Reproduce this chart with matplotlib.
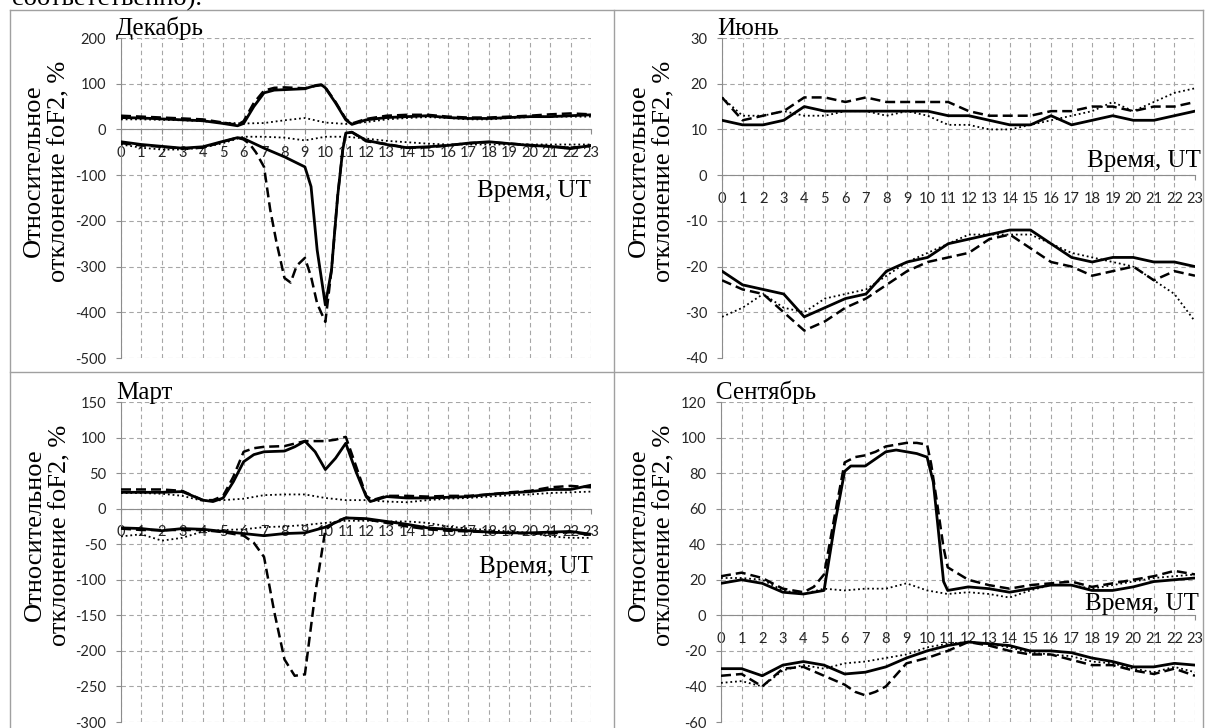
"""Относительное отклонение foF2 — четыре сезона (декабрь, июнь, март, сентябрь)."""

import matplotlib
matplotlib.use("Agg")
import matplotlib.pyplot as plt          # noqa: E402
from matplotlib.lines import Line2D      # noqa: E402

plt.rcParams["axes.unicode_minus"] = False

W, H = 1206, 728
HOURS = list(range(24))

# ---- Декабрь -------------------------------------------------------------
DEC_UP_T = [0, 1, 2, 3, 4, 5, 5.7, 6, 6.5, 7, 7.5, 8, 9, 9.5, 9.8, 10, 10.5,
            11, 11.3, 12, 13, 14, 15, 16, 17, 18, 19, 20, 21, 22, 23]
DEC_UP_SOLID = [26, 25, 23, 21, 19, 13, 8, 13, 50, 80, 86, 87, 89, 96, 98, 91,
                58, 21, 11, 21, 26, 28, 30, 26, 24, 24, 26, 28, 28, 30, 32]
DEC_UP_DASHED = [30, 28, 26, 24, 22, 15, 10, 18, 58, 85, 91, 92, 90, 95, 97,
                 92, 60, 23, 13, 23, 30, 32, 32, 28, 26, 26, 28, 30, 33, 35, 33]
DEC_UP_DOTTED = [22, 22, 21, 20, 18, 15, 13, 14, 20, 25, 15, 12, 16, 22, 25,
                 27, 25, 22, 22, 25, 27, 28, 28, 28]
DEC_LO_SOLID_T = [0, 1, 2, 3, 4, 5, 5.7, 6, 7, 8, 9, 9.3, 9.6, 10, 10.3, 10.6,
                  10.85, 11, 11.3, 12, 13, 14, 15, 16, 17, 18, 19, 20, 21, 22,
                  23]
DEC_LO_SOLID = [-27, -33, -37, -41, -38, -26, -18, -20, -41, -60, -82, -125,
                -264, -384, -308, -147, -45, -8, -6, -24, -33, -40, -38, -35,
                -30, -27, -31, -35, -37, -42, -35]
DEC_LO_DASHED_T = [0, 1, 2, 3, 4, 5, 5.7, 6, 6.3, 6.6, 7, 7.3, 7.6, 8, 8.3,
                   8.6, 9, 9.3, 9.6, 10, 10.3, 10.6, 10.85, 11, 11.3, 12, 13,
                   14, 15, 16, 17, 18, 19, 20, 21, 22, 23]
DEC_LO_DASHED = [-30, -35, -38, -42, -40, -27, -18, -22, -32, -50, -82, -175,
                 -245, -325, -335, -298, -281, -322, -381, -421, -308, -147,
                 -45, -8, -6, -26, -32, -40, -39, -35, -30, -28, -31, -34, -37,
                 -40, -36]
DEC_LO_DOTTED = [-33, -40, -44, -44, -40, -30, -16, -16, -18, -24, -16, -16,
                 -20, -25, -28, -31, -33, -33, -33, -33, -33, -33, -33, -33]

# ---- Июнь ----------------------------------------------------------------
JUN_UP_SOLID = [12, 11, 11, 12, 15, 14, 14, 14, 14, 14, 14, 13, 13, 12, 11, 11,
                13, 11, 12, 13, 12, 12, 13, 14]
JUN_UP_DASHED = [17, 12, 13, 14, 17, 17, 16, 17, 16, 16, 16, 16, 14, 13, 13,
                 13, 14, 14, 15, 15, 14, 15, 15, 16]
JUN_UP_DOTTED = [17, 13, 13, 14, 13, 13, 14, 14, 13, 14, 13, 11, 11, 10, 10,
                 11, 12, 13, 14, 16, 14, 16, 18, 19]
JUN_LO_SOLID = [-21, -24, -25, -26, -31, -29, -27, -26, -21, -19, -18, -15,
                -14, -13, -12, -12, -15, -18, -19, -18, -18, -19, -19, -20]
JUN_LO_DASHED = [-23, -25, -26, -30, -34, -32, -29, -27, -24, -21, -19, -18,
                 -17, -14, -13, -16, -19, -20, -22, -21, -20, -23, -21, -22]
JUN_LO_DOTTED = [-31, -29, -26, -29, -30, -27, -26, -25, -22, -19, -17, -15,
                 -13, -13, -13, -13, -15, -17, -18, -19, -20, -23, -26, -32]

# ---- Март ----------------------------------------------------------------
MAR_UP_SOLID_T = [0, 1, 2, 3, 4, 4.5, 5, 5.5, 6, 6.5, 7, 8, 8.5, 9, 9.5, 10,
                  10.5, 11, 11.5, 12, 12.2, 13, 14, 15, 16, 17, 18, 19, 20, 21,
                  22, 23]
MAR_UP_SOLID = [23, 23, 23, 24, 12, 10, 15, 38, 66, 76, 80, 81, 87, 95, 80, 55,
                71, 92, 52, 17, 10, 17, 15, 15, 16, 17, 20, 22, 24, 27, 27, 33]
MAR_UP_DASHED_T = [0, 1, 2, 3, 4, 4.5, 5, 5.5, 6, 6.5, 7, 8, 9, 10, 10.5, 11,
                   11.5, 12, 12.3, 13, 14, 15, 16, 17, 18, 19, 20, 21, 22, 23]
MAR_UP_DASHED = [27, 27, 27, 25, 12, 12, 18, 45, 80, 85, 87, 88, 95, 95, 97,
                 101, 60, 18, 12, 18, 18, 17, 18, 18, 20, 23, 25, 30, 32, 30]
MAR_UP_DOTTED = [22, 22, 21, 18, 11, 12, 14, 19, 20, 20, 15, 12, 12, 10, 9, 12,
                 14, 15, 17, 19, 20, 22, 23, 24]
MAR_LO_SOLID = [-27, -28, -31, -28, -29, -32, -35, -38, -35, -34, -26, -13,
                -14, -18, -22, -27, -29, -31, -33, -34, -34, -33, -32, -36]
MAR_LO_DASHED_T = [0, 1, 2, 3, 4, 5, 6, 6.5, 7, 7.5, 8, 8.5, 9, 9.5, 10, 10.5,
                   11, 12, 13, 14, 15, 16, 17, 18, 19, 20, 21, 22, 23]
MAR_LO_DASHED = [-28, -30, -30, -30, -30, -33, -38, -48, -68, -145, -212, -235,
                 -233, -120, -30, -18, -13, -15, -20, -25, -29, -31, -32, -33,
                 -34, -35, -35, -33, -37]
MAR_LO_DOTTED = [-39, -36, -45, -41, -32, -30, -29, -26, -25, -23, -20, -17,
                 -17, -18, -18, -20, -25, -28, -30, -32, -34, -39, -41, -41]

# ---- Сентябрь ------------------------------------------------------------
SEP_UP_SOLID_T = [0, 1, 2, 3, 4, 5, 5.5, 6, 6.3, 7, 7.5, 8, 8.5, 9, 9.5, 10,
                  10.3, 10.5, 10.8, 11, 12, 13, 14, 15, 16, 17, 18, 19, 20, 21,
                  22, 23]
SEP_UP_SOLID = [18, 20, 18, 13, 12, 14, 50, 81, 84, 84, 88, 92, 93, 92, 91, 89,
                75, 53, 19, 14, 16, 15, 13, 15, 17, 17, 14, 14, 16, 19, 20, 21]
SEP_UP_DASHED_T = [0, 1, 2, 3, 4, 4.5, 5, 5.5, 6, 6.5, 7, 7.5, 8, 8.5, 9, 9.5,
                   10, 10.2, 10.5, 10.8, 11, 12, 13, 14, 15, 16, 17, 18, 19,
                   20, 21, 22, 23]
SEP_UP_DASHED = [22, 24, 21, 15, 13, 16, 23, 55, 86, 89, 90, 92, 95, 96, 97,
                 97, 96, 85, 62, 38, 27, 20, 17, 15, 17, 18, 19, 16, 18, 20,
                 22, 25, 23]
SEP_UP_DOTTED = [21, 21, 20, 14, 12, 15, 14, 15, 15, 18, 14, 12, 13, 12, 10,
                 14, 17, 17, 15, 17, 19, 21, 22, 23]
SEP_LO_SOLID = [-30, -30, -34, -28, -26, -28, -33, -32, -29, -24, -20, -17,
                -15, -16, -17, -20, -20, -21, -24, -26, -29, -29, -27, -28]
SEP_LO_DASHED_T = [0, 1, 2, 3, 4, 5, 6, 6.5, 7, 7.5, 8, 9, 10, 11, 12, 13, 14,
                   15, 16, 17, 18, 19, 20, 21, 22, 23]
SEP_LO_DASHED = [-34, -33, -40, -30, -29, -34, -39, -43, -45, -43, -40, -27,
                 -24, -20, -15, -17, -20, -22, -22, -25, -28, -28, -31, -33,
                 -30, -34]
SEP_LO_DOTTED = [-38, -37, -40, -31, -28, -30, -27, -26, -24, -22, -18, -16,
                 -15, -16, -18, -21, -22, -23, -26, -27, -30, -32, -29, -32]

SERIF = "Liberation Serif"
SANS = "Lato"
GRID_C = "#a6a6a6"
AXIS_C = "#8c8c8c"
YLABEL = "Относительное\nотклонение foF2, %"

SOLID = dict(color="black", lw=2.0, ls="-", solid_joinstyle="round")
DASHED = dict(color="black", lw=1.8, ls=(0, (4, 2)))
DOTTED = dict(color="black", lw=1.3, ls=(0, (1, 1.6)))


def fx(x):
    return x / W


def fy(y):
    return 1 - y / H


def px_axes(fig, left, top, right, bottom):
    return fig.add_axes([fx(left), fy(bottom), (right - left) / W,
                         (bottom - top) / H])


def draw_panel(ax, curves, ymin, ymax, step):
    for t, v, style in curves:
        ax.plot(t, v, **style, zorder=3)
    ax.set_xlim(0, 23)
    ax.set_ylim(ymin, ymax)
    ax.set_xticks(HOURS)
    ax.set_xticklabels([str(h) for h in HOURS])
    ax.set_yticks(range(ymin, ymax + 1, step))
    ax.set_axisbelow(True)
    ax.grid(True, color=GRID_C, lw=0.8, ls=(0, (4, 3)))
    for side in ("top", "right"):
        ax.spines[side].set_visible(False)
    ax.spines["left"].set_color(AXIS_C)
    ax.spines["bottom"].set_color(AXIS_C)
    ax.spines["bottom"].set_position(("data", 0))
    ax.tick_params(axis="both", direction="out", length=3.6, color=AXIS_C,
                   labelsize=10.5, labelcolor="#262626")
    ax.tick_params(axis="y", pad=7)
    ax.tick_params(axis="x", pad=8.5)
    for lab in ax.get_xticklabels() + ax.get_yticklabels():
        lab.set_fontfamily(SANS)


fig = plt.figure(figsize=(W / 100, H / 100), dpi=100)
fig.patch.set_facecolor("white")

# рамка таблицы
for (x0, y0, x1, y1) in [(10, 10, 1203, 10), (10, 10, 10, 728),
                         (614, 10, 614, 728), (10, 372, 1203, 372),
                         (1203, 10, 1203, 728)]:
    fig.add_artist(Line2D([fx(x0), fx(x1)], [fy(y0), fy(y1)],
                          transform=fig.transFigure, color="#a0a0a0", lw=1.0))

fig.text(fx(12), fy(6), "соответственно).", fontsize=19, family=SERIF,
         va="baseline")

panels = [
    dict(box=(121, 38, 591, 358), ylim=(-500, 200, 100), title="Декабрь",
         curves=[(HOURS, DEC_UP_DOTTED, DOTTED), (DEC_UP_T, DEC_UP_DASHED, DASHED),
                 (DEC_UP_T, DEC_UP_SOLID, SOLID), (HOURS, DEC_LO_DOTTED, DOTTED),
                 (DEC_LO_DASHED_T, DEC_LO_DASHED, DASHED),
                 (DEC_LO_SOLID_T, DEC_LO_SOLID, SOLID)],
         time_xy=(591, 197), label_x=47),
    dict(box=(722, 38, 1195, 358), ylim=(-40, 30, 10), title="Июнь",
         curves=[(HOURS, JUN_UP_DOTTED, DOTTED), (HOURS, JUN_UP_DASHED, DASHED),
                 (HOURS, JUN_UP_SOLID, SOLID), (HOURS, JUN_LO_DOTTED, DOTTED),
                 (HOURS, JUN_LO_DASHED, DASHED), (HOURS, JUN_LO_SOLID, SOLID)],
         time_xy=(1201, 167), label_x=652),
    dict(box=(121, 402, 591, 722), ylim=(-300, 150, 50), title="Март",
         curves=[(HOURS, MAR_UP_DOTTED, DOTTED),
                 (MAR_UP_DASHED_T, MAR_UP_DASHED, DASHED),
                 (MAR_UP_SOLID_T, MAR_UP_SOLID, SOLID),
                 (HOURS, MAR_LO_DOTTED, DOTTED),
                 (MAR_LO_DASHED_T, MAR_LO_DASHED, DASHED),
                 (HOURS, MAR_LO_SOLID, SOLID)],
         time_xy=(593, 573), label_x=48),
    dict(box=(721, 402, 1195, 722), ylim=(-60, 120, 20), title="Сентябрь",
         curves=[(HOURS, SEP_UP_DOTTED, DOTTED),
                 (SEP_UP_DASHED_T, SEP_UP_DASHED, DASHED),
                 (SEP_UP_SOLID_T, SEP_UP_SOLID, SOLID),
                 (HOURS, SEP_LO_DOTTED, DOTTED),
                 (SEP_LO_DASHED_T, SEP_LO_DASHED, DASHED),
                 (HOURS, SEP_LO_SOLID, SOLID)],
         time_xy=(1199, 610), label_x=652),
]

for p in panels:
    left, top, right, bottom = p["box"]
    ax = px_axes(fig, left, top, right, bottom)
    ymin, ymax, step = p["ylim"]
    draw_panel(ax, p["curves"], ymin, ymax, step)
    # название месяца
    fig.text(fx(left - 5), fy(top - 3), p["title"], fontsize=18, family=SERIF,
             va="baseline", ha="left")
    # Время, UT
    tx, ty = p["time_xy"]
    fig.text(fx(tx), fy(ty), "Время, UT", fontsize=18, family=SERIF,
             va="baseline", ha="right")
    # подпись оси Y
    fig.text(fx(p["label_x"]), fy((top + bottom) / 2 - 27), YLABEL,
             fontsize=19, family=SERIF, rotation=90, ha="center", va="center",
             multialignment="center")

fig.savefig("out.png", dpi=100, facecolor="white")
